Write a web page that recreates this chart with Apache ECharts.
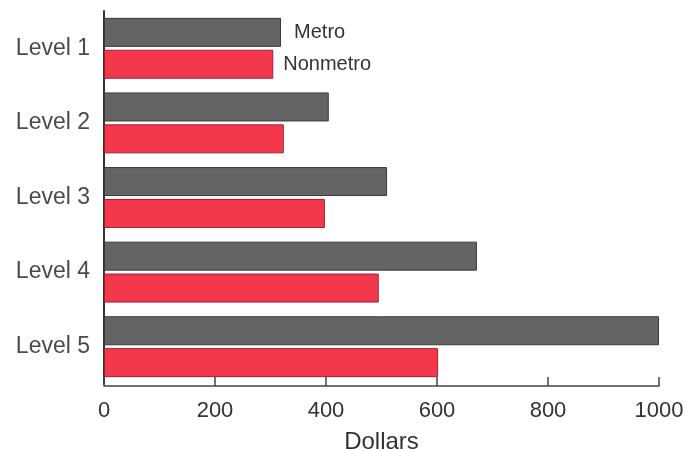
<!DOCTYPE html>
<html><head><meta charset="utf-8">
<script src="https://cdn.jsdelivr.net/npm/echarts@6/dist/echarts.min.js"></script>
<style>html,body{margin:0;padding:0;background:#fff}#c{width:689px;height:449px}</style>
</head><body><div id="c"></div>
<script>
const categories = ["Level 1", "Level 2", "Level 3", "Level 4", "Level 5"];
const metro = [319, 405, 510, 672, 1000];
const nonmetro = [305, 324, 398, 495, 602];
const xTicks = [0, 200, 400, 600, 800, 1000];

const chart = echarts.init(document.getElementById('c'));
const font = '"Liberation Sans", Arial, sans-serif';
function withFirstLabel(vals, name, dist) {
  return vals.map((v, i) => i === 0 ? {value: v, label: {show: true, position: 'right', formatter: name, distance: dist, color: '#333', fontSize: 20, fontFamily: font}} : v);
}
chart.setOption({
  animation: false,
  grid: {left: 104, right: 30, top: 11, bottom: 65, containLabel: false, outerBoundsMode: 'none'},
  xAxis: {
    type: 'value', min: 0, max: 1000, interval: 200, offset: 2,
    axisLine: {show: true, lineStyle: {color: '#444', width: 1.5}},
    axisTick: {show: true, inside: true, length: 9, lineStyle: {color: '#444', width: 1.5}},
    splitLine: {show: false},
    axisLabel: {color: '#333', fontSize: 22, fontFamily: font, margin: 14,
      formatter: v => xTicks.includes(v) ? String(v) : ''},
    name: 'Dollars', nameLocation: 'middle', nameGap: 44,
    nameTextStyle: {color: '#333', fontSize: 24, fontFamily: font}
  },
  yAxis: {
    type: 'category', data: categories, inverse: true,
    axisLine: {show: true, lineStyle: {color: '#333', width: 2}},
    axisTick: {show: false},
    axisLabel: {color: '#4a4a4a', fontSize: 23, fontFamily: font, margin: 14}
  },
  series: [
    {name: 'Metro', type: 'bar', data: withFirstLabel(metro, 'Metro', 13), barWidth: 29, barGap: '10%',
     itemStyle: {color: '#646464', borderColor: '#3a3a3a', borderWidth: 1}},
    {name: 'Nonmetro', type: 'bar', data: withFirstLabel(nonmetro, 'Nonmetro', 10), barWidth: 29,
     itemStyle: {color: '#f4384c', borderColor: '#a02030', borderWidth: 1}}
  ]
});
</script></body></html>
